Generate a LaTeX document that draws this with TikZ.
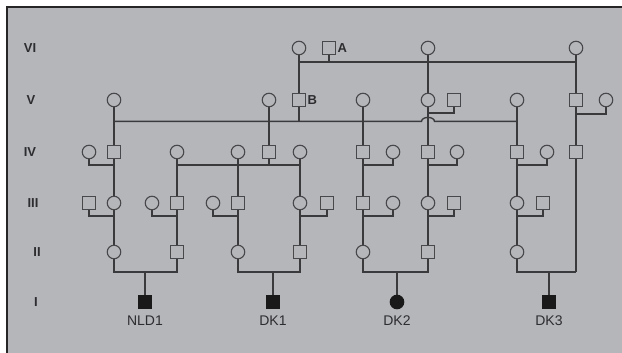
\documentclass[tikz,border=0pt]{standalone}
\usepackage{fontspec}
\setmainfont{Liberation Sans}
\begin{document}
\begin{tikzpicture}[x=1pt,y=-1pt,
  line width=1.2pt,
  ln/.style={draw=linegray, line width=1.2pt},
  fem/.style={circle, draw=symgray, fill=bggray, line width=1.1pt, minimum size=13.5pt, inner sep=0pt},
  mal/.style={rectangle, draw=symgray, fill=bggray, line width=1.1pt, minimum size=13pt, inner sep=0pt},
  afffem/.style={fem, fill=black!90, draw=black!90},
  affmal/.style={mal, fill=black!90, draw=black!90},
  gen/.style={font=\bfseries\fontsize{13}{13}\selectfont, text=txtgray},
  tag/.style={font=\bfseries\fontsize{13}{13}\selectfont, text=txtgray, anchor=west, inner sep=1pt},
  pid/.style={font=\fontsize{14}{14}\selectfont, text=txtgray},
]
\definecolor{bggray}{RGB}{181,182,186}
\definecolor{linegray}{RGB}{58,58,60}
\definecolor{symgray}{RGB}{72,72,74}
\definecolor{txtgray}{RGB}{45,45,48}

% canvas and frame
\useasboundingbox (0,0) rectangle (622,353);
\fill[bggray] (7,7) rectangle (622,353);
\draw[black!85, line width=1.3pt] (7,353) -- (7,7) -- (622,7);

% generation labels
\node[gen] (gVI)  at (30,48)  {VI};
\node[gen] (gV)   at (31,100) {V};
\node[gen] (gIV)  at (30,152) {IV};
\node[gen] (gIII) at (33,203) {III};
\node[gen] (gII)  at (37,252) {II};
\node[gen] (gI)   at (36,302) {I};

% junction points
\coordinate (j6l) at (299,62);  \coordinate (j6r) at (576,62);
\coordinate (h5l) at (114,121.4); \coordinate (h5r) at (517,121.4);
\coordinate (hop) at (421.5,121.4);
\coordinate (j5d) at (428,113); \coordinate (j5g) at (576,114);
\coordinate (j4a) at (114,165);
\coordinate (m4l) at (177,165); \coordinate (m4r) at (300,165);
\coordinate (j4f) at (363,165); \coordinate (j4h) at (428,165); \coordinate (j4j) at (517,165);
\coordinate (j3a) at (114,216); \coordinate (j3b) at (177,216); \coordinate (j3c) at (238,216);
\coordinate (j3d) at (300,216); \coordinate (j3e) at (363,216); \coordinate (j3f) at (428,216);
\coordinate (j3g) at (517,216);
\coordinate (k1) at (145,272); \coordinate (k2) at (273,272);
\coordinate (k3) at (397,272); \coordinate (k4) at (576,272);

% connectors (drawn first, symbols cover the ends)
\begin{scope}[ln]
  % generation VI
  \draw (j6l) -- (j6r);
  \draw (299,48) -- (299,100);
  \draw (329,48) -- (329,62);
  \draw (428,48) -- (428,152);
  \draw (576,48) -- (576,272) -- (k4);
  % generation V
  \draw[line width=1.35pt] (h5l) -- (hop) arc[start angle=180, end angle=0, x radius=6.5pt, y radius=4pt] -- (h5r);
  \draw (299,100) -- (299,121.4);
  \draw (454,100) |- (j5d);
  \draw (606,100) |- (j5g);
  \draw (114,100) -- (114,252);
  \draw (269,100) -- (269,165);
  \draw (363,100) -- (363,252);
  \draw (517,100) -- (517,252);
  % generation IV
  \draw (89,152) |- (j4a);
  \draw (m4l) -- (m4r);
  \draw (177,152) -- (177,252);
  \draw (238,152) -- (238,252);
  \draw (300,152) -- (300,252);
  \draw (393,152) |- (j4f);
  \draw (457,152) |- (j4h);
  \draw (547,152) |- (j4j);
  \draw (428,152) -- (428,252);
  % generation III
  \draw (89,203) |- (j3a);
  \draw (152,203) |- (j3b);
  \draw (213,203) |- (j3c);
  \draw (327,203) |- (j3d);
  \draw (393,203) |- (j3e);
  \draw (454,203) |- (j3f);
  \draw (543,203) |- (j3g);
  % generation II to I
  \draw (114,252) |- (k1) -| (177,252);
  \draw (238,252) |- (k2) -| (300,252);
  \draw (363,252) |- (k3) -| (428,252);
  \draw (517,252) |- (k4);
  \draw (k1) -- (145,302);
  \draw (k2) -- (273,302);
  \draw (k3) -- (397,302);
  \draw (549,272) -- (549,302);
\end{scope}

% generation VI
\node[fem] (c6a) at (299,48) {};
\node[mal] (s6A) at (329,48) {};
\node[tag] (tA) at (s6A.east) {A};
\node[fem] (c6b) at (428,48) {};
\node[fem] (c6c) at (576,48) {};

% generation V
\node[fem] (c5a) at (114,100) {};
\node[fem] (c5b) at (269,100) {};
\node[mal] (s5B) at (299,100) {};
\node[tag] (tB) at (s5B.east) {B};
\node[fem] (c5c) at (363,100) {};
\node[fem] (c5d) at (428,100) {};
\node[mal] (s5e) at (454,100) {};
\node[fem] (c5f) at (517,100) {};
\node[mal] (s5g) at (576,100) {};
\node[fem] (c5h) at (606,100) {};

% generation IV
\node[fem] (c4a) at (89,152) {};
\node[mal] (s4a) at (114,152) {};
\node[fem] (c4b) at (177,152) {};
\node[fem] (c4c) at (238,152) {};
\node[mal] (s4d) at (269,152) {};
\node[fem] (c4e) at (300,152) {};
\node[mal] (s4f) at (363,152) {};
\node[fem] (c4g) at (393,152) {};
\node[mal] (s4h) at (428,152) {};
\node[fem] (c4i) at (457,152) {};
\node[mal] (s4j) at (517,152) {};
\node[fem] (c4k) at (547,152) {};
\node[mal] (s4l) at (576,152) {};

% generation III
\node[mal] (s3a) at (89,203) {};
\node[fem] (c3a) at (114,203) {};
\node[fem] (c3b) at (152,203) {};
\node[mal] (s3b) at (177,203) {};
\node[fem] (c3c) at (213,203) {};
\node[mal] (s3c) at (238,203) {};
\node[fem] (c3d) at (300,203) {};
\node[mal] (s3d) at (327,203) {};
\node[mal] (s3e) at (363,203) {};
\node[fem] (c3e) at (393,203) {};
\node[fem] (c3f) at (428,203) {};
\node[mal] (s3f) at (454,203) {};
\node[fem] (c3g) at (517,203) {};
\node[mal] (s3g) at (543,203) {};

% generation II
\node[fem] (c2a) at (114,252) {};
\node[mal] (s2a) at (177,252) {};
\node[fem] (c2b) at (238,252) {};
\node[mal] (s2b) at (300,252) {};
\node[fem] (c2c) at (363,252) {};
\node[mal] (s2c) at (428,252) {};
\node[fem] (c2d) at (517,252) {};

% generation I (probands)
\node[affmal] (p1) at (145,302) {};
\node[affmal] (p2) at (273,302) {};
\node[afffem] (p3) at (397,302) {};
\node[affmal] (p4) at (549,302) {};
\node[pid] (l1) at (145,321) {NLD1};
\node[pid] (l2) at (273,321) {DK1};
\node[pid] (l3) at (397,321) {DK2};
\node[pid] (l4) at (549,321) {DK3};
\end{tikzpicture}
\end{document}
